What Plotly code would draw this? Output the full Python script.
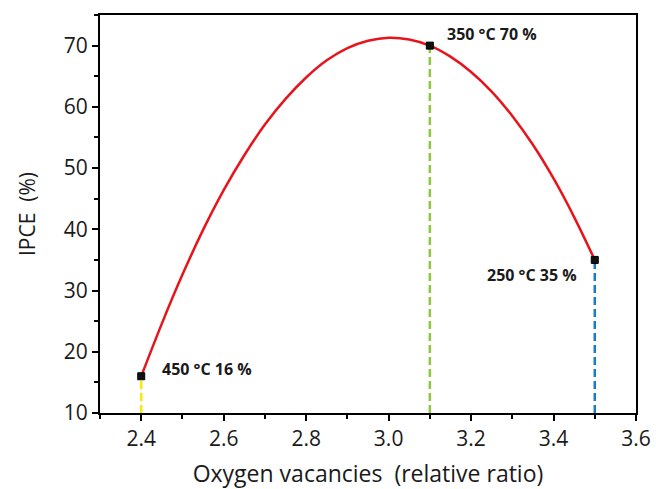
import plotly.graph_objects as go

# Fitted IPCE curve versus oxygen-vacancy ratio
curve_x = [2.40, 2.45, 2.50, 2.55, 2.60, 2.65, 2.70, 2.75, 2.80, 2.85, 2.90, 2.95,
           3.00, 3.05, 3.10, 3.15, 3.20, 3.25, 3.30, 3.35, 3.40, 3.45, 3.50]
curve_y = [16.0, 24.6, 32.6, 39.9, 46.4, 52.1, 57.1, 61.3, 64.8, 67.6, 69.6, 70.8,
           71.3, 71.0, 70.0, 68.2, 65.7, 62.5, 58.5, 53.8, 48.3, 42.0, 35.0]

# Measured samples (annealing temperature, IPCE)
sample_x = [2.4, 3.1, 3.5]
sample_y = [16, 70, 35]
sample_temp = [450, 350, 250]
drop_colors = ["#f7ea00", "#8dc63f", "#1b7bc4"]

y_floor = 10

font_family = "Open Sans, Noto Sans, Arial, sans-serif"

fig = go.Figure()

# Dashed drop lines from the x axis up to each sample
for x, y, c in zip(sample_x, sample_y, drop_colors):
    fig.add_trace(go.Scatter(
        x=[x, x], y=[y_floor, y], mode="lines",
        line=dict(color=c, width=2.5, dash="8px,4px"),
        showlegend=False, hoverinfo="skip"))

fig.add_trace(go.Scatter(
    x=curve_x, y=curve_y, mode="lines",
    line=dict(color="#e8141c", width=2.5, shape="spline", smoothing=1.0),
    showlegend=False))

fig.add_trace(go.Scatter(
    x=sample_x, y=sample_y, mode="markers",
    marker=dict(symbol="square", size=7, color="#111111",
                line=dict(color="#000000", width=1)),
    showlegend=False))

# Sample labels
label_pos = [
    dict(xanchor="left", yanchor="middle", xshift=19, yshift=7),
    dict(xanchor="left", yanchor="middle", xshift=15, yshift=12),
    dict(xanchor="right", yanchor="middle", xshift=-16, yshift=-15),
]
for x, y, t, p in zip(sample_x, sample_y, sample_temp, label_pos):
    fig.add_annotation(
        x=x, y=y, text=f"<b>{t} °C {y} %</b>", showarrow=False,
        font=dict(family=font_family, size=16, color="#1a1a1a"), **p)

axis_common = dict(
    showline=True, linecolor="#000000", linewidth=2, mirror=True,
    ticks="outside", ticklen=6, tickwidth=2, tickcolor="#000000",
    showgrid=False, zeroline=False, automargin=False,
    ticklabeloverflow="allow",
    tickfont=dict(family=font_family, size=21, color="#1a1a1a"),
)

fig.update_xaxes(
    range=[2.3, 3.6], tick0=2.4, dtick=0.2, tickformat=".1f",
    minor=dict(ticks="outside", ticklen=4, tickwidth=2, tickcolor="#000000", dtick=0.1, tick0=2.3),
    title=dict(text="Oxygen vacancies  (relative ratio)",
               font=dict(family=font_family, size=23, color="#1a1a1a"), standoff=15),
    **axis_common)
fig.update_yaxes(
    range=[10, 75], tick0=10, dtick=10,
    minor=dict(ticks="outside", ticklen=4, tickwidth=2, tickcolor="#000000", dtick=5, tick0=10),
    title=dict(text="IPCE  (%)",
               font=dict(family=font_family, size=21, color="#1a1a1a"), standoff=22),
    **axis_common)

fig.update_layout(
    width=656, height=489,
    margin=dict(l=100, r=20, t=15, b=76),
    paper_bgcolor="white", plot_bgcolor="white",
)

fig.write_html("out.html")
